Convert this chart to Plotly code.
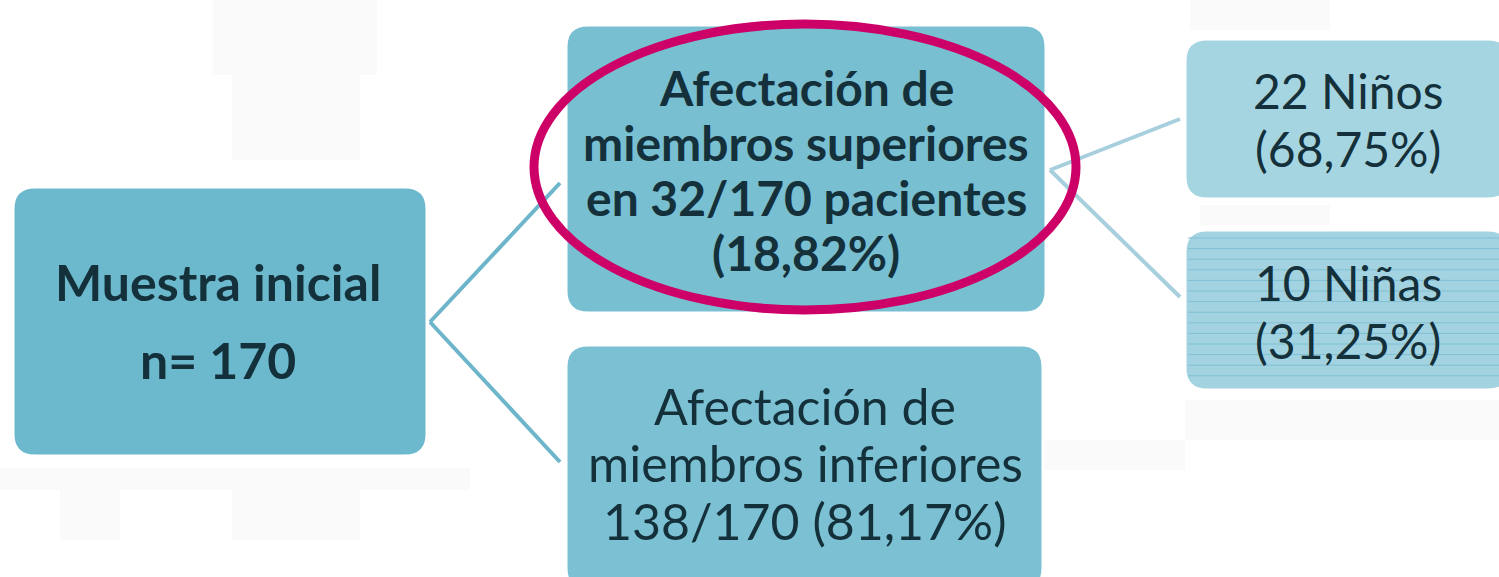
import plotly.graph_objects as go
import numpy as np

# ---- content ----
node_ids = ["root", "sup", "inf", "ninos", "ninas"]
node_lines = [
    ["Muestra inicial", "n= 170"],
    ["Afectación de", "miembros superiores", "en 32/170 pacientes", "(18,82%)"],
    ["Afectación de", "miembros inferiores", "138/170 (81,17%)"],
    ["22 Niños", "(68,75%)"],
    ["10 Niñas", "(31,25%)"],
]
node_bold = [True, True, False, False, False]
edges = [("root", "sup"), ("root", "inf"), ("sup", "ninos"), ("sup", "ninas")]
highlight = "sup"

# ---- layout (pixel geometry) ----
W, H = 1499, 577
boxes = {
    "root": (13, 187, 427, 456),
    "sup": (566, 25, 1046, 313),
    "inf": (566, 345, 1043, 590),
    "ninos": (1185, 39, 1510, 199),
    "ninas": (1185, 230, 1510, 390),
}
fills = {
    "root": "#6cb9cd",
    "sup": "#78bfd2",
    "inf": "#7cc1d3",
    "ninos": "#a6d5e2",
    "ninas": "#a3d3e1",
}
text_y = {
    "root": [282, 360],
    "sup": [87, 142, 197, 252],
    "inf": [406, 463, 521],
    "ninos": [90, 148],
    "ninas": [282, 340],
}
text_x = {"root": 218, "sup": 806, "inf": 805, "ninos": 1348, "ninas": 1348}
font_size = {"root": 50, "sup": 48, "inf": 50, "ninos": 48, "ninas": 48}
edge_pts = {
    ("root", "sup"): ((430, 322), (560, 183)),
    ("root", "inf"): ((430, 322), (560, 462)),
    ("sup", "ninos"): ((1050, 170), (1180, 119)),
    ("sup", "ninas"): ((1050, 170), (1180, 297)),
}
edge_color = {"root": "#6db5ca", "sup": "#a7cfdd"}


def rrect(x0, y0, x1, y1, r):
    return (f"M{x0+r},{y0} L{x1-r},{y0} Q{x1},{y0} {x1},{y0+r} "
            f"L{x1},{y1-r} Q{x1},{y1} {x1-r},{y1} L{x0+r},{y1} "
            f"Q{x0},{y1} {x0},{y1-r} L{x0},{y0+r} Q{x0},{y0} {x0+r},{y0} Z")


shapes = []
# faint background blocks
bg = [(213, 0, 377, 75), (232, 75, 360, 160), (0, 468, 470, 490), (60, 490, 120, 540),
      (232, 490, 360, 540), (1190, 0, 1330, 30), (1200, 205, 1330, 225),
      (1185, 400, 1499, 440), (1040, 440, 1185, 470)]
for (x0, y0, x1, y1) in bg:
    shapes.append(dict(type="rect", x0=x0, y0=y0, x1=x1, y1=y1,
                       fillcolor="#fafafa", line=dict(width=0), layer="below"))

for (a, b) in edges:
    (xa, ya), (xb, yb) = edge_pts[(a, b)]
    shapes.append(dict(type="line", x0=xa, y0=ya, x1=xb, y1=yb,
                       line=dict(color=edge_color[a], width=4)))

for nid in node_ids:
    x0, y0, x1, y1 = boxes[nid]
    shapes.append(dict(type="path", path=rrect(x0, y0, x1, y1, 22),
                       fillcolor=fills[nid], line=dict(color="white", width=3)))

# stripes on the Niñas box
x0, y0, x1, y1 = boxes["ninas"]
for yy in np.arange(y0 + 8, y1 - 4, 10.6):
    shapes.append(dict(type="line", x0=x0 + 3, x1=W, y0=yy, y1=yy,
                       line=dict(color="#7fc0d3", width=1)))

# highlight ellipse
shapes.append(dict(type="circle", x0=534, y0=24, x1=1076, y1=310,
                   line=dict(color="#cc0066", width=9)))

annotations = []
for i, nid in enumerate(node_ids):
    for line, y in zip(node_lines[i], text_y[nid]):
        txt = f"<b>{line}</b>" if node_bold[i] else line
        annotations.append(dict(x=text_x[nid], y=y, text=txt, showarrow=False,
                                xanchor="center", yanchor="middle",
                                font=dict(family="Lato", size=font_size[nid], color="#14303a")))

fig = go.Figure()
fig.update_layout(
    width=W, height=H, margin=dict(l=0, r=0, t=0, b=0),
    paper_bgcolor="white", plot_bgcolor="white",
    xaxis=dict(range=[0, W], visible=False, fixedrange=True),
    yaxis=dict(range=[H, 0], visible=False, fixedrange=True),
    shapes=shapes, annotations=annotations, showlegend=False,
)
fig.write_html("out.html", config={"displayModeBar": False},
               post_script="document.body.style.margin='0';document.body.style.overflow='hidden';")
